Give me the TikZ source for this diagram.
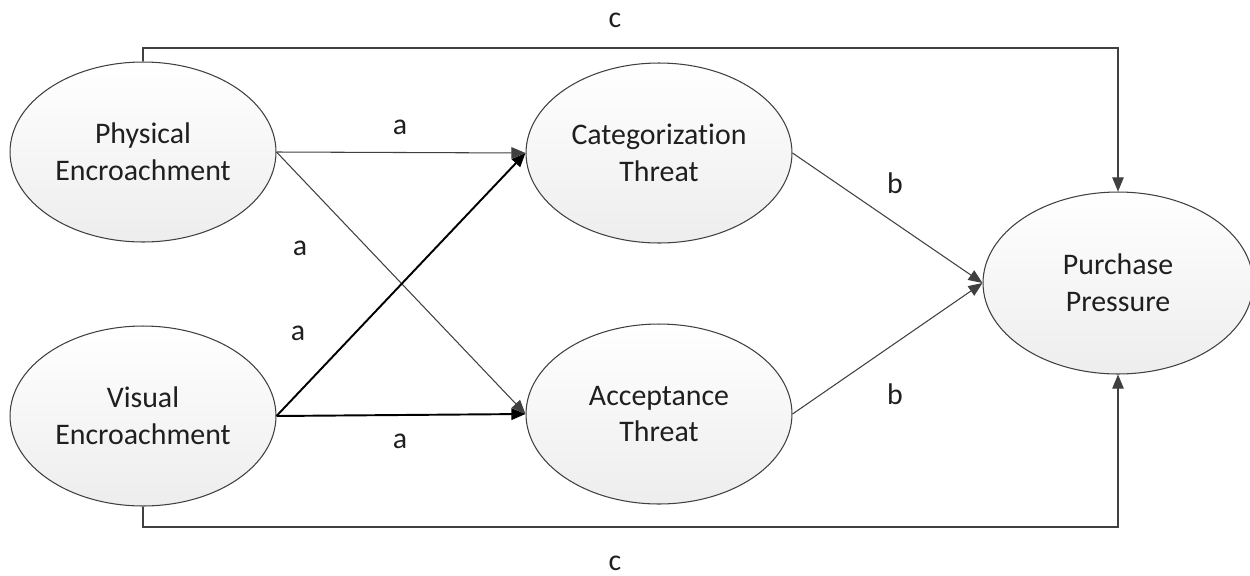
\documentclass[tikz,border=0pt]{standalone}
\usepackage{fontspec}
\setmainfont{Carlito}[Ligatures=NoCommon]
\usetikzlibrary{shapes.geometric,arrows.meta}
\begin{document}
\begin{tikzpicture}[x=0.02cm,y=-0.02cm,
  construct/.style={ellipse, draw=black!75, line width=0.6pt, inner sep=0pt,
    minimum width=5.32cm, minimum height=3.6cm, top color=white, bottom color=black!7,
    align=center, font=\fontsize{17}{21}\selectfont, text=black!88},
  thinlink/.style={draw=black!75, line width=0.6pt, -{Triangle[length=8pt,width=6.5pt]}},
  thicklink/.style={draw=black, line width=1.1pt, -{Triangle[length=8pt,width=6.5pt]}},
  pathlabel/.style={font=\fontsize{17}{20}\selectfont, text=black!88}]
  \useasboundingbox (0,0) rectangle (1250,575);

  % constructs
  \node[construct] (pe) at (143,152) {Physical\\Encroachment};
  \node[construct] (ve) at (143,416) {Visual\\Encroachment};
  \node[construct] (ct) at (659,153) {Categorization\\Threat};
  \node[construct] (at) at (659,414) {Acceptance\\Threat};
  \node[construct, minimum width=5.4cm, minimum height=3.64cm] (pp) at (1118,283) {Purchase\\Pressure};

  % a paths
  \draw[thinlink] (pe.east) -- (ct.west);
  \draw[thinlink] (pe.east) -- (at.west);
  \draw[thicklink] (ve.east) -- (ct.west);
  \draw[thicklink] (ve.east) -- (at.west);

  % b paths
  \draw[thinlink] (ct.east) -- (pp.west);
  \draw[thinlink] (at.east) -- (pp.west);

  % c paths (direct effects)
  \draw[thinlink] (pe.north) -- (pe.north |- 0,48) -| (pp.north);
  \draw[thinlink] (ve.south) -- (ve.south |- 0,527) -| (pp.south);

  % labels
  \node[pathlabel] (c1) at (615,20) {c};
  \node[pathlabel] (a1) at (400,127) {a};
  \node[pathlabel] (a2) at (300,248) {a};
  \node[pathlabel] (a3) at (298,333) {a};
  \node[pathlabel] (a4) at (400,441) {a};
  \node[pathlabel] (b1) at (895,183) {b};
  \node[pathlabel] (b2) at (895,394) {b};
  \node[pathlabel] (c2) at (615,563) {c};
\end{tikzpicture}
\end{document}
